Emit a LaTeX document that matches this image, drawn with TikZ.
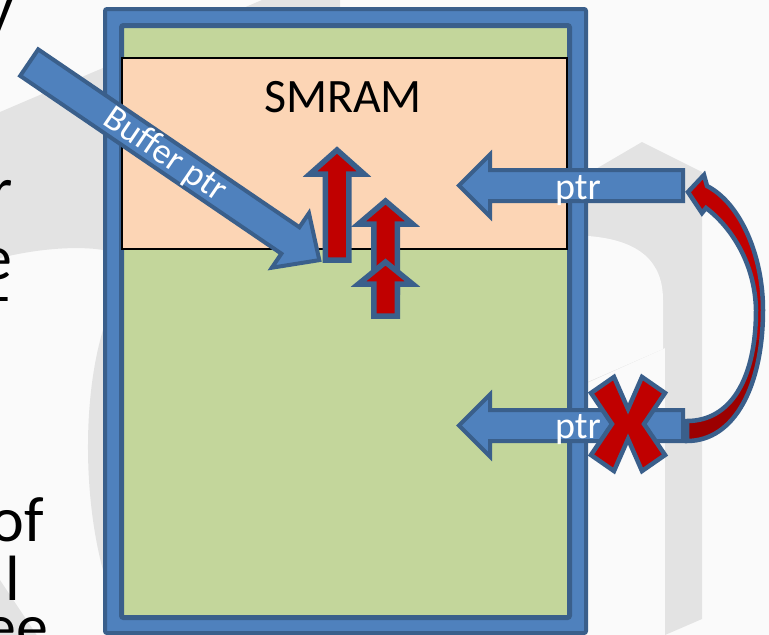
\documentclass[tikz,border=0pt]{standalone}
\usepackage{fontspec}
\setmainfont{Carlito}
\definecolor{bgc}{HTML}{FAFAFA}
\definecolor{wmgray}{HTML}{E3E3E3}
\definecolor{boxblue}{HTML}{4F81BD}
\definecolor{edgeblue}{HTML}{3A5F8B}
\definecolor{memgreen}{HTML}{C3D69B}
\definecolor{smpeach}{HTML}{FCD5B5}
\definecolor{arrred}{HTML}{C00000}
\definecolor{darkred}{HTML}{9C0000}
% style, tail point, angle, length, shaft half width, head half width, head length
\newcommand{\blockarr}[7]{%
  \draw[#1,shift={#2},rotate=#3] (0,-#5) -- ({#4-#7},-#5) -- ({#4-#7},-#6) -- (#4,0)
    -- ({#4-#7},#6) -- ({#4-#7},#5) -- (0,#5) -- cycle;}
\tikzset{
  ptrarr/.style={fill=boxblue,draw=edgeblue,line width=4,line join=miter},
  redarr/.style={fill=arrred,draw=edgeblue,line width=5.5,line join=miter},
  sidetxt/.style={inner sep=0,text=black,font=\fontsize{64}{70}\selectfont},
  whitetxt/.style={inner sep=0,text=white},
}
\begin{document}
\begin{tikzpicture}[x=1pt,y=-1pt]
\useasboundingbox (0,0) rectangle (769,635);
\clip (0,0) rectangle (769,635);
% background and watermark
\fill[bgc] (0,0) rectangle (769,635);
\fill[wmgray] (0,112) -- (262,0) -- (340,0) -- (340,250) -- (103,250) .. controls (80,246) and (40,248) .. (0,258) -- cycle;
\fill[wmgray] (103,330) .. controls (82,400) and (84,500) .. (103,570) -- cycle;
\fill[wmgray] (0,580) -- (40,640) -- (0,640) -- cycle;
\fill[wmgray] (642,142) -- (702,172) -- (702,619) -- (665,635) -- (665,348) -- (560,395) -- (560,190) -- cycle;
\fill[bgc] (560,232) -- (588,236) .. controls (640,240) and (663,262) .. (663,300) -- (663,349) -- (560,394) -- cycle;
% cut-off text on the left
\node[sidetxt,anchor=base west] (ty) at (-16,30) {y};
\node[sidetxt,anchor=base east] (tr) at (13,211) {r};
\node[sidetxt,anchor=base east] (te) at (13,279) {e};
\begin{scope}
\clip (0,285) rectangle (60,314);
\node[sidetxt,anchor=base west] (tt) at (-12,327) {t};
\end{scope}
\node[sidetxt,anchor=base east] (tof) at (44,541) {of};
\node[sidetxt,anchor=base west] (tl) at (5,600) {l};
\node[sidetxt,anchor=base west] (tee) at (-16,648) {ee};
% memory box
\draw[fill=boxblue,draw=edgeblue,line width=4,rounded corners=2] (105,9) rectangle (586,633);
\draw[fill=memgreen,draw=edgeblue,line width=5,rounded corners=2] (121.5,25.5) rectangle (569.5,617.5);
\draw[fill=smpeach,draw=black,line width=2] (121.7,58.3) rectangle (566.7,249.3);
\node[inner sep=0,anchor=base,font=\fontsize{48}{56}\selectfont] (smram) at (343,112) {SMRAM};
% buffer pointer
\blockarr{ptrarr}{(29.2,62.6)}{-34.25}{351}{16}{33}{35}
\node[whitetxt,rotate=-34.25,font=\fontsize{36}{42}\selectfont] (bufptr) at (165,155) {Buffer ptr};
% red up arrows
\blockarr{redarr}{(337,260)}{90}{110}{11.75}{27}{24}
\blockarr{redarr}{(385.5,292)}{90}{91}{11.75}{27}{23}
\blockarr{redarr}{(385.5,316)}{90}{54}{11.75}{27}{22}
% ptr arrows
\blockarr{ptrarr}{(683,185.5)}{180}{224}{15.5}{31}{31}
\node[whitetxt,anchor=base,font=\fontsize{38}{45}\selectfont] (ptrA) at (578,199) {ptr};
\blockarr{ptrarr}{(683,425.5)}{180}{224}{15.5}{31}{31}
\node[whitetxt,anchor=base,font=\fontsize{38}{45}\selectfont] (ptrB) at (578,438) {ptr};
% curved arrow
\def\curvedpath{(687,441) .. controls (735,441) and (763,385) .. (763,310)
  .. controls (763,255) and (740,203) .. (707,186)
  -- (704,175) -- (688,192) -- (702,213) -- (706,208)
  .. controls (730,226) and (755,262) .. (756,310)
  .. controls (756,380) and (730,421) .. (687,421) -- cycle}
\fill[arrred] \curvedpath;
\begin{scope}
\clip (600,340) rectangle (769,460);
\fill[darkred] \curvedpath;
\end{scope}
\draw[edgeblue,line width=4.5,line join=miter] \curvedpath;
% red cross
\draw[fill=arrred,draw=edgeblue,line width=4.5,line join=miter,shift={(628,424)}]
  (-14,-47) -- (0,-15) -- (14,-47) -- (37,-31) -- (16,0) -- (37,31) -- (14,47)
  -- (0,15) -- (-14,47) -- (-37,31) -- (-16,0) -- (-37,-31) -- cycle;
\end{tikzpicture}
\end{document}
